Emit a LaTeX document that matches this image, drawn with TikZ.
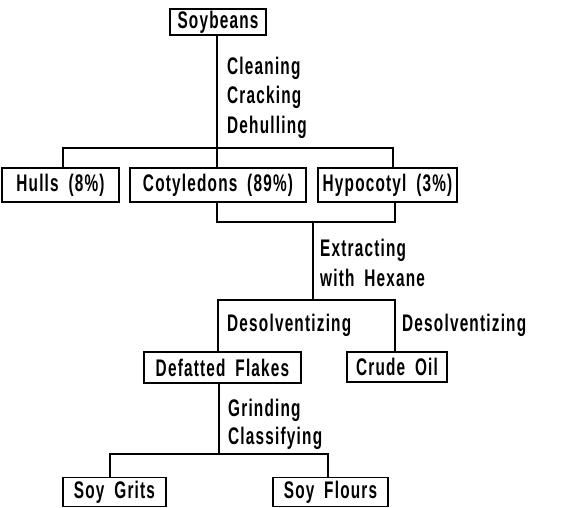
\documentclass[tikz,border=0pt]{standalone}
\usepackage{fontspec}
\setmainfont{Liberation Sans}[FakeStretch=0.64,UprightFont=*-Bold,WordSpace=1.8,LetterSpace=5]
\begin{document}
\begin{tikzpicture}[x=1pt,y=-1pt,
  every node/.style={font=\fontsize{24}{26}\selectfont},
  box/.style={draw,line width=1.3pt,inner sep=0pt,minimum height=#1},
  box/.default=30,
  lbl/.style={anchor=west,inner sep=0pt},
  ln/.style={line width=1.2pt}]
\useasboundingbox (0,0) rectangle (578,507);
% boxes
\node[box=26,minimum width=96] (soy) at (218,22) {Soybeans};
\node[box=34,minimum width=117] (hulls) at (60.5,185) {Hulls (8\%)};
\node[box=34,minimum width=176] (coty) at (218,185) {Cotyledons (89\%)};
\node[box=34,minimum width=139] (hypo) at (387.5,185) {Hypocotyl (3\%)};
\node[box=31,minimum width=157] (flakes) at (222.5,367.5) {Defatted Flakes};
\node[box=30,minimum width=100] (oil) at (397,367) {Crude Oil};
\node[box=29,minimum width=103] (grits) at (114.5,492) {Soy Grits};
\node[box=29,minimum width=115] (flours) at (330.5,492) {Soy Flours};
% labels
\node[lbl] (l1) at (227,68) {Cleaning};
\node[lbl] (l2) at (227,97) {Cracking};
\node[lbl] (l3) at (227,127) {Dehulling};
\node[lbl] (l4) at (320,250) {Extracting};
\node[lbl] (l5) at (320,278) {with Hexane};
\node[lbl] (l6) at (227,325) {Desolventizing};
\node[lbl] (l7) at (402,325) {Desolventizing};
\node[lbl] (l8) at (228,410) {Grinding};
\node[lbl] (l9) at (228,438) {Classifying};
% junction coordinates
\coordinate (a) at (217,148);
\coordinate (aL) at (63,148);
\coordinate (aR) at (393,148);
\coordinate (b1) at (217,222);
\coordinate (b2) at (395,222);
\coordinate (bm) at (313,222);
\coordinate (cm) at (313,300);
\coordinate (cL) at (218,300);
\coordinate (cR) at (395,300);
\coordinate (d) at (219,454);
\coordinate (dL) at (110,454);
\coordinate (dR) at (328,454);
% connectors
\draw[ln] (soy.south -| a) -- (a);
\draw[ln] (aL |- hulls.north) -- (aL) -- (aR) -- (aR |- hypo.north);
\draw[ln] (a) -- (a |- coty.north);
\draw[ln] (b1 |- coty.south) -- (b1) -- (b2) -- (b2 |- hypo.south);
\draw[ln] (bm) -- (cm);
\draw[ln] (cL |- flakes.north) -- (cL) -- (cR) -- (cR |- oil.north);
\draw[ln] (d |- flakes.south) -- (d);
\draw[ln] (dL |- grits.north) -- (dL) -- (dR) -- (dR |- flours.north);
\end{tikzpicture}
\end{document}
